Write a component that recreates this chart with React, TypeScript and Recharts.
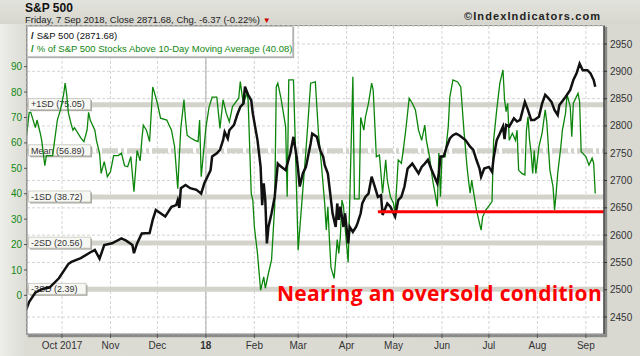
import React from "react";
import {
  ComposedChart, Line, XAxis, YAxis, CartesianGrid, ReferenceLine,
} from "recharts";

// x = calendar days counted from 1 Sep 2017
const monthDays = [30, 61, 91, 122, 153, 181, 212, 242, 273, 303, 334, 365];
const monthLabels = ["Oct 2017", "Nov", "Dec", "18", "Feb", "Mar", "Apr", "May", "Jun", "Jul", "Aug", "Sep"];

const spxDays = [7, 9, 13, 18, 22, 28, 34, 36, 42, 49, 51, 54, 57, 62, 68, 71, 75, 76, 78, 81, 86, 88, 90, 93, 96, 100, 103, 104, 105, 106, 109, 112, 116, 119, 121, 125, 126, 129, 131, 133, 134, 136, 137, 140, 142, 144, 146, 147, 149, 151, 152, 155, 157, 158, 159, 160, 161, 162, 164, 166, 167, 168, 169, 173, 176, 178, 180, 181, 182, 184, 186, 189, 190, 193, 195, 197, 198, 200, 202, 203, 205, 206, 207, 208, 210, 211, 213, 214, 216, 218, 219, 221, 222, 224, 226, 228, 230, 232, 234, 235, 238, 240, 243, 245, 247, 249, 251, 254, 256, 258, 260, 262, 264, 266, 270, 271, 272, 274, 276, 278, 280, 282, 284, 288, 291, 293, 295, 297, 298, 300, 303, 305, 306, 308, 310, 312, 313, 314, 316, 319, 321, 323, 326, 328, 330, 332, 335, 337, 339, 341, 343, 345, 347, 348, 352, 355, 357, 359, 361, 363, 366, 368, 370, 371];
const spxClose = [2463, 2478, 2495, 2502, 2504, 2521, 2547, 2551, 2558, 2570, 2573, 2557, 2582, 2585, 2594, 2590, 2582, 2567, 2585, 2603, 2604, 2628, 2646, 2640, 2634, 2652, 2655, 2664, 2650, 2686, 2692, 2686, 2683, 2676, 2695, 2719, 2744, 2750, 2756, 2774, 2789, 2777, 2792, 2802, 2820, 2835, 2841, 2872, 2857, 2847, 2823, 2774, 2725, 2655, 2695, 2664, 2585, 2615, 2640, 2670, 2700, 2731, 2728, 2719, 2750, 2780, 2744, 2719, 2689, 2713, 2725, 2768, 2786, 2780, 2756, 2744, 2728, 2713, 2664, 2640, 2615, 2658, 2628, 2652, 2615, 2640, 2585, 2615, 2606, 2615, 2622, 2640, 2658, 2670, 2676, 2707, 2689, 2670, 2673, 2637, 2658, 2652, 2634, 2664, 2670, 2689, 2722, 2731, 2722, 2713, 2725, 2731, 2738, 2722, 2695, 2713, 2744, 2744, 2762, 2777, 2783, 2786, 2783, 2774, 2762, 2756, 2738, 2722, 2707, 2722, 2725, 2716, 2741, 2774, 2786, 2799, 2776, 2802, 2799, 2814, 2808, 2811, 2844, 2829, 2811, 2811, 2817, 2841, 2857, 2851, 2844, 2829, 2820, 2838, 2853, 2866, 2884, 2896, 2914, 2902, 2902, 2896, 2884, 2871.68];

const pctDays = [7, 9, 10, 12, 13, 14, 16, 17, 19, 20, 22, 24, 27, 29, 31, 32, 33, 34, 36, 37, 38, 42, 44, 46, 47, 48, 51, 52, 54, 55, 57, 59, 61, 63, 66, 68, 70, 72, 74, 76, 78, 80, 81, 82, 84, 86, 88, 89, 91, 93, 97, 100, 102, 104, 105, 106, 108, 109, 110, 112, 115, 117, 118, 119, 120, 122, 124, 126, 129, 131, 133, 135, 137, 139, 143, 144, 146, 148, 149, 151, 152, 153, 155, 157, 159, 160, 162, 164, 166, 167, 168, 170, 173, 174, 175, 178, 179, 181, 184, 186, 189, 192, 194, 196, 198, 199, 200, 201, 202, 204, 205, 206, 207, 208, 209, 210, 211, 213, 214, 216, 217, 220, 221, 223, 224, 226, 228, 229, 231, 233, 235, 237, 238, 240, 242, 243, 245, 247, 248, 250, 252, 254, 256, 258, 260, 262, 263, 265, 267, 270, 271, 272, 273, 275, 277, 278, 280, 283, 285, 287, 289, 290, 291, 292, 293, 295, 297, 298, 299, 301, 305, 306, 308, 310, 312, 313, 314, 315, 316, 318, 320, 321, 322, 324, 326, 327, 328, 329, 330, 331, 332, 333, 335, 337, 339, 340, 342, 344, 345, 346, 347, 349, 350, 352, 353, 355, 356, 357, 359, 360, 361, 362, 365, 367, 369, 370, 371];
const pctAbove = [61, 72, 72, 68, 66, 69, 64, 61, 51, 55, 55, 55, 69, 73, 79, 83.5, 79, 72, 67, 65, 66, 62, 60.5, 65, 72, 69, 65, 61, 56, 48, 52.6, 46.7, 48.7, 55, 55, 56, 51, 50.6, 54.6, 40.8, 57, 53, 61, 67, 65, 60.5, 82, 80, 75.6, 69.7, 69, 65, 58.5, 42, 54.6, 66, 77, 69, 63, 62, 61, 60.5, 69, 46.7, 53, 66, 74, 78, 78, 65.7, 77, 71.7, 68.3, 74.3, 77.6, 84.1, 75, 79.5, 77, 40, 37.5, 27, 16.5, 2, 7.3, 2.8, 8.7, 14, 35, 82, 83.5, 77.6, 66.4, 38.8, 84.8, 84.8, 63.8, 17.8, 41.5, 57, 83.5, 84, 63.8, 50.6, 36, 25.7, 34.9, 22, 11, 6.7, 14, 22, 16.5, 23, 37.5, 35, 27, 13, 37.5, 86, 38, 38, 70, 65, 70, 75.6, 83.5, 80.8, 54.6, 55.2, 40.2, 53.3, 45.4, 38.8, 36.2, 32.3, 53.3, 52, 56, 66, 77.6, 75.6, 73, 65, 61, 67, 61, 54.6, 45.4, 35, 56, 38.8, 55, 54.6, 66.4, 78, 84.8, 84, 82, 65, 50.6, 45, 40.2, 45.4, 41.3, 33.6, 28.3, 25.7, 30.9, 33.6, 36.9, 61, 73, 83.5, 88.7, 77, 72.3, 75.6, 61, 63.8, 61, 65, 49.3, 48, 47.4, 65, 70.3, 61, 56, 48, 57, 48, 58.5, 63.8, 73, 68.3, 49.3, 42.8, 33.6, 40.2, 48, 58.5, 65, 71.7, 79, 74.3, 62.4, 75.6, 78.2, 79.5, 76.2, 56.5, 54.6, 51.3, 54, 52, 40.08];

const sdNames = ["+1SD", "Mean", "-1SD", "-2SD", "-3SD"];
const sdLevels = [75.05, 56.89, 38.72, 20.56, 2.39];

const pctTicks = [0, 10, 20, 30, 40, 50, 60, 70, 80, 90];
const spxTicks = [2450, 2500, 2550, 2600, 2650, 2700, 2750, 2800, 2850, 2900, 2950];

const supportLevel = 2643;
const supportStart = 232;

const spxData = spxDays.map((day, i) => ({ day, spx: spxClose[i] }));
const pctData = pctDays.map((day, i) => ({ day, pct: pctAbove[i] }));

const FONT = "'Liberation Sans', Arial, sans-serif";
const X_DOMAIN: [number, number] = [7.6, 376.6];

function SdLabel(props: any) {
  const { viewBox, text } = props;
  if (!viewBox) return null;
  const w = text.length * 4.5 + 8;
  return (
    <g>
      <rect x={viewBox.x + 3} y={viewBox.y - 4.5} width={w} height={11} fill="#a8a8a0" />
      <rect x={viewBox.x + 1.5} y={viewBox.y - 6} width={w} height={11} fill="#f7f7f3" stroke="#c4c4bc" strokeWidth={0.8} />
      <text x={viewBox.x + 4} y={viewBox.y + 2.8} fontSize={9} fill="#333" fontFamily={FONT}>{text}</text>
    </g>
  );
}

function MonthTick(props: any) {
  const { x, y, payload } = props;
  const lbl = monthLabels[monthDays.indexOf(payload.value)];
  return (
    <text x={x} y={y + 9} textAnchor="middle" fontSize={10} fill="#333"
      fontFamily={FONT} fontWeight={lbl === "18" ? "bold" : "normal"}>
      {lbl}
    </text>
  );
}

export default function App() {
  return (
    <div style={{
      position: "absolute", left: 0, top: 0, width: 640, height: 356, fontFamily: FONT,
      background: "linear-gradient(to right, #eeeeea 0px, #dcdcd5 26px, #d9d9d2 100%)",
    }}>
      <div style={{ position: "absolute", left: 0, top: 0, width: 640, height: 24, background: "linear-gradient(#e3e3dd, #d6d6ce)" }} />
      {/* plot frame with shadow */}
      <div style={{
        position: "absolute", left: 26, top: 25, width: 577, height: 308,
        background: "#fff", border: "1px solid #8c8c8c", boxShadow: "2px 2px 1px #8a8a86",
      }} />

      <div style={{ position: "absolute", left: 25, top: 1, fontSize: 12, fontWeight: "bold", color: "#111" }}>S&amp;P 500</div>
      <div style={{ position: "absolute", left: 25, top: 14, fontSize: 9.5, color: "#222", whiteSpace: "nowrap" }}>
        Friday, 7 Sep 2018, Close 2871.68, Chg. -6.37 (-0.22%)
        <span style={{ color: "#d00000", fontSize: 8, marginLeft: 3 }}>▼</span>
      </div>
      <div style={{ position: "absolute", left: 464, top: 10, fontSize: 11, fontWeight: "bold", color: "#222", letterSpacing: 1.1 }}>
        ©IndexIndicators.com
      </div>

      <div style={{ position: "absolute", left: 0, top: 0 }}>
        <ComposedChart width={640} height={356} margin={{ top: 26, right: 0, bottom: 0, left: 0 }}>
          <CartesianGrid yAxisId="r" strokeDasharray="3 2" stroke="#d4d4d4" />
          <XAxis dataKey="day" type="number" domain={X_DOMAIN} ticks={monthDays} allowDataOverflow
            height={22} tick={<MonthTick />} tickSize={4} tickLine={{ stroke: "#555" }}
            axisLine={{ stroke: "#8c8c8c" }} />
          <YAxis yAxisId="l" orientation="left" width={27} domain={[-15.2, 106]} ticks={pctTicks}
            allowDataOverflow tickSize={3} tickMargin={2} axisLine={{ stroke: "#8c8c8c" }}
            tickLine={{ stroke: "#555" }} tick={{ fill: "#118811", fontSize: 10, fontFamily: FONT }} />
          <YAxis yAxisId="r" orientation="right" width={36} domain={[2419, 2983]} ticks={spxTicks}
            allowDataOverflow tickSize={3} tickMargin={3} axisLine={{ stroke: "#444", strokeWidth: 1.5 }}
            tickLine={{ stroke: "#333" }} tick={{ fill: "#333", fontSize: 10, fontFamily: FONT }} />

          <ReferenceLine yAxisId="r" x={monthDays[3]} stroke="#aaaaaa" />
          {sdLevels.map((lvl, i) => (
            <ReferenceLine key={sdNames[i]} yAxisId="l" y={lvl} stroke="#d3d3cb" strokeWidth={5}
              strokeDasharray={sdNames[i] === "Mean" ? "16 3 3 3" : undefined}
              label={<SdLabel text={`${sdNames[i]} (${lvl.toFixed(2)})`} />} />
          ))}

          <Line yAxisId="l" data={pctData} dataKey="pct" stroke="#0b860b" strokeWidth={1.3}
            dot={false} isAnimationActive={false} />
          <Line yAxisId="r" data={spxData} dataKey="spx" stroke="#111" strokeWidth={2.5}
            dot={false} isAnimationActive={false} />

          <ReferenceLine yAxisId="r" stroke="#ff0000" strokeWidth={3}
            segment={[{ x: supportStart, y: supportLevel }, { x: X_DOMAIN[1], y: supportLevel }]} />
        </ComposedChart>
      </div>

      {/* legend */}
      <div style={{
        position: "absolute", left: 27, top: 26, width: 264, height: 29, background: "#fff",
        border: "1px solid #c8c8c8", boxShadow: "1px 1px 1px #b0b0b0", fontSize: 9.5, lineHeight: "13px",
      }}>
        <div style={{ position: "absolute", left: 3, top: 2, color: "#111", whiteSpace: "nowrap" }}>
          <span style={{ fontWeight: "bold", marginRight: 3 }}>/</span>S&amp;P 500 (2871.68)
        </div>
        <div style={{ position: "absolute", left: 3, top: 15, color: "#118811", whiteSpace: "nowrap" }}>
          <span style={{ fontWeight: "bold", marginRight: 3 }}>/</span>% of S&amp;P 500 Stocks Above 10-Day Moving Average (40.08)
        </div>
      </div>

      <div style={{
        position: "absolute", left: 277, top: 279, fontSize: 21, fontWeight: "bold", color: "#ff0000",
        fontFamily: "'Open Sans', sans-serif", whiteSpace: "nowrap", letterSpacing: 0.3,
      }}>
        Nearing an oversold condition
      </div>
    </div>
  );
}
